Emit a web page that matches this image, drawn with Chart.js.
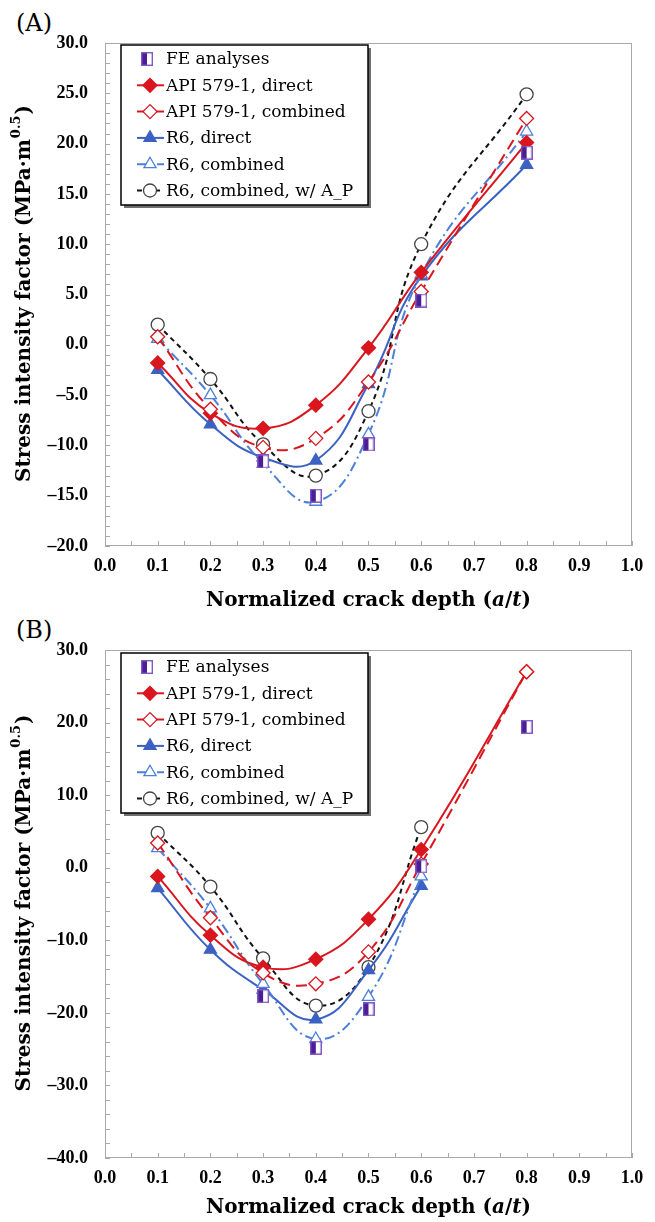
<!DOCTYPE html>
<html>
<head>
<meta charset="utf-8">
<script src="https://cdn.jsdelivr.net/npm/chart.js@4.4.0/dist/chart.umd.min.js"></script>
<style>
  body { margin: 0; background: #fff; width: 655px; height: 1222px; position: relative; overflow: hidden; }
  canvas { position: absolute; left: 0; }
  .tag { position: absolute; left: 16px; font: 24px "DejaVu Serif", serif; line-height: 26px; }
</style>
</head>
<body>
<div class="tag" style="top:10px">(A)</div>
<canvas id="chartA" width="655" height="615" style="top:0"></canvas>
<div class="tag" style="top:617px">(B)</div>
<canvas id="chartB" width="655" height="607" style="top:615px"></canvas>
<script>
// crack depth a/t where results are given
const crackDepth = [0.1, 0.2, 0.3, 0.4, 0.5, 0.6, 0.8];
const seriesNames = ['FE analyses', 'API 579-1, direct', 'API 579-1, combined', 'R6, direct', 'R6, combined', 'R6, combined, w/ A_P'];

// (A) stress intensity factor, MPa m^0.5
const feA        = [null, null, -11.6, -15.0, -9.9, 4.4, 19.1];
const apiDirectA = [-1.8, -6.8, -8.3, -6.0, -0.3, 7.2, 20.1];
const apiCombA   = [0.8, -6.4, -10.2, -9.3, -3.7, 5.3, 22.5];
const r6DirectA  = [-2.5, -7.9, -11.2, -11.5, -3.9, 6.8, 17.9];
const r6CombA    = [0.6, -5.0, -11.8, -15.6, -8.9, 7.0, 21.2];
const r6ApA      = [2.0, -3.4, -9.9, -13.0, -6.6, 10.0, 24.9];

// (B)
const feB        = [null, null, -17.7, -24.8, -19.5, 0.2, 19.4];
const apiDirectB = [-1.2, -9.3, -13.7, -12.6, -7.1, 2.5, 27.0];
const apiCombB   = [3.4, -6.9, -14.5, -16.0, -11.6, 0.5, 27.0];
const r6DirectB  = [-2.8, -11.3, -16.8, -20.9, -14.1, -2.5, null];
const r6CombB    = [2.7, -5.6, -16.0, -23.6, -17.8, -1.2, null];
const r6ApB      = [4.8, -2.6, -12.5, -19.0, -13.7, 5.6, null];

const xTicks = { min: 0, max: 1, step: 0.1, minor: 0.05 };
const yTicksA = { min: -20, max: 30, step: 5, minor: 1 };
const yTicksB = { min: -40, max: 30, step: 10, minor: 2 };

const RED = '#d9161e', BLUE = '#3b62c2', LBLUE = '#4d80d8', PURPLE = '#4b1e96';

// half filled square used for the FE results
function feMarker() {
  const c = document.createElement('canvas');
  c.width = 12; c.height = 14;
  const g = c.getContext('2d');
  g.fillStyle = '#fff'; g.fillRect(0, 0, 12, 14);
  g.fillStyle = PURPLE; g.fillRect(0, 0, 6, 14);
  g.strokeStyle = '#8159c4'; g.lineWidth = 1.4;
  g.strokeRect(0.7, 0.7, 10.6, 12.6);
  return c;
}
const feStyle = feMarker();

function pts(vals) {
  return crackDepth.map((x, i) => ({ x: x, y: vals[i] })).filter(p => p.y !== null);
}

function buildDatasets(fe, apiDirect, apiComb, r6Direct, r6Comb, r6Ap) {
  const common = { tension: 0.45, borderWidth: 2, pointBorderWidth: 1.3 };
  return [
    { label: seriesNames[0], data: pts(fe), showLine: false, pointStyle: feStyle, pointRadius: 7,
      pointBackgroundColor: PURPLE, pointBorderColor: PURPLE, borderColor: PURPLE, order: 0 },
    Object.assign({ label: seriesNames[1], data: pts(apiDirect), borderColor: RED, pointStyle: 'rectRot', pointRadius: 7,
      pointBackgroundColor: RED, pointBorderColor: RED, order: 2 }, common),
    Object.assign({ label: seriesNames[2], data: pts(apiComb), borderColor: RED, borderDash: [11, 6], pointStyle: 'rectRot', pointRadius: 7,
      pointBackgroundColor: '#fff', pointBorderColor: RED, order: 1 }, common),
    Object.assign({ label: seriesNames[3], data: pts(r6Direct), borderColor: BLUE, pointStyle: 'triangle', pointRadius: 7,
      pointBackgroundColor: BLUE, pointBorderColor: BLUE, order: 4 }, common),
    Object.assign({ label: seriesNames[4], data: pts(r6Comb), borderColor: LBLUE, borderDash: [10, 4, 2, 4], pointStyle: 'triangle', pointRadius: 7,
      pointBackgroundColor: '#fff', pointBorderColor: LBLUE, order: 3 }, common),
    Object.assign({ label: seriesNames[5], data: pts(r6Ap), borderColor: '#111', borderDash: [5, 4], pointStyle: 'circle', pointRadius: 6.5,
      pointBackgroundColor: '#fff', pointBorderColor: '#444', order: 5 }, common)
  ];
}

// grey frame and inside minor ticks
const frameTicks = {
  id: 'frameTicks',
  beforeDatasetsDraw(chart, args, opts) {
    const { ctx, chartArea: a, scales: { x, y } } = chart;
    ctx.save();
    ctx.strokeStyle = '#a9a9a9';
    ctx.lineWidth = 1;
    ctx.strokeRect(a.left + 0.5, a.top + 0.5, a.width - 1, a.height - 1);
    ctx.beginPath();
    for (let v = y.min; v <= y.max + 1e-9; v += opts.yMinor) {
      const py = Math.round(y.getPixelForValue(v)) + 0.5;
      ctx.moveTo(a.left, py); ctx.lineTo(a.left + 5, py);
    }
    for (let v = x.min; v <= x.max + 1e-9; v += opts.xMinor) {
      const px = Math.round(x.getPixelForValue(v)) + 0.5;
      ctx.moveTo(px, a.bottom); ctx.lineTo(px, a.bottom - 5);
    }
    ctx.stroke();
    ctx.restore();
  }
};

// axis titles (superscript and italics need several pieces)
const axisTitles = {
  id: 'axisTitles',
  afterDraw(chart, args, opts) {
    const { ctx, chartArea: a } = chart;
    const fam = '20px "DejaVu Serif"';
    const supFont = 'bold 13px "DejaVu Serif"';
    ctx.save();
    ctx.fillStyle = '#000';
    ctx.textBaseline = 'middle';
    ctx.textAlign = 'left';
    const parts = [['Normalized crack depth (', 'bold '], ['a', 'italic bold '], ['/', 'bold '], ['t', 'italic bold '], [')', 'bold ']];
    let total = 0;
    parts.forEach(p => { ctx.font = p[1] + fam; total += ctx.measureText(p[0]).width; });
    let cx = (a.left + a.right) / 2 - total / 2;
    parts.forEach(p => {
      ctx.font = p[1] + fam;
      ctx.fillText(p[0], cx, a.bottom + opts.xTitleGap);
      cx += ctx.measureText(p[0]).width;
    });

    ctx.translate(opts.yTitleX, (a.top + a.bottom) / 2);
    ctx.rotate(-Math.PI / 2);
    const main = 'Stress intensity factor (MPa\u00b7m', sup = '0.5', end = ')';
    ctx.font = 'bold ' + fam;
    const w1 = ctx.measureText(main).width, w3 = ctx.measureText(end).width;
    ctx.font = supFont;
    const w2 = ctx.measureText(sup).width;
    const sx = -(w1 + w2 + w3) / 2;
    ctx.font = 'bold ' + fam;
    ctx.fillText(main, sx, 0);
    ctx.font = supFont;
    ctx.fillText(sup, sx + w1 + 1, -8);
    ctx.font = 'bold ' + fam;
    ctx.fillText(end, sx + w1 + w2 + 2, 0);
    ctx.restore();
  }
};

// boxed legend inside the plot, with line sample and marker
const boxLegend = {
  id: 'boxLegend',
  afterDatasetsDraw(chart, args, opts) {
    const { ctx, chartArea: a } = chart;
    const L = a.left + opts.dx, T = a.top + opts.dy;
    ctx.save();
    ctx.fillStyle = '#6f6f6f';
    ctx.fillRect(L + 3, T + 3, opts.width, opts.height);
    ctx.fillStyle = '#fff';
    ctx.fillRect(L, T, opts.width, opts.height);
    ctx.strokeStyle = '#000';
    ctx.lineWidth = 1.5;
    ctx.strokeRect(L, T, opts.width, opts.height);
    chart.data.datasets.forEach((ds, i) => {
      const cy = T + opts.firstRow + i * opts.rowStep;
      let mx = L + 26;
      if (ds.showLine !== false) {
        mx = L + 29;
        ctx.setLineDash(ds.borderDash || []);
        ctx.strokeStyle = ds.borderColor;
        ctx.lineWidth = ds.borderWidth;
        ctx.beginPath(); ctx.moveTo(L + 16, cy); ctx.lineTo(L + 43, cy); ctx.stroke();
      }
      ctx.setLineDash([]);
      ctx.fillStyle = ds.pointBackgroundColor;
      ctx.strokeStyle = ds.pointBorderColor;
      ctx.lineWidth = ds.pointBorderWidth || 1;
      Chart.helpers.drawPoint(ctx, { pointStyle: ds.pointStyle, radius: ds.pointRadius, rotation: 0, borderWidth: ds.pointBorderWidth || 1 }, mx, cy);
      ctx.fillStyle = '#000';
      ctx.font = '17px "DejaVu Serif"';
      ctx.textBaseline = 'middle';
      ctx.fillText(ds.label, L + 45, cy + 1);
    });
    ctx.restore();
  }
};

const tickFont = { family: 'Liberation Serif', size: 18, weight: 'bold' };
const fmt = v => (v < 0 ? '\u2013' + Math.abs(v).toFixed(1) : v.toFixed(1));

function makeChart(id, datasets, yt, plotTop, xAxisH, legendDy, titleGap) {
  return new Chart(document.getElementById(id), {
    type: 'line',
    data: { datasets: datasets },
    options: {
      responsive: false,
      animation: false,
      events: [],
      layout: { padding: { top: plotTop, right: 23, left: 0, bottom: 0 } },
      scales: {
        x: {
          type: 'linear', min: xTicks.min, max: xTicks.max,
          grid: { display: false, drawTicks: false }, border: { display: false },
          ticks: { stepSize: xTicks.step, padding: 10, color: '#000', font: tickFont, maxRotation: 0, callback: v => v.toFixed(1) },
          afterFit: s => { s.height = xAxisH; }
        },
        y: {
          min: yt.min, max: yt.max,
          grid: { display: false, drawTicks: false }, border: { display: false },
          ticks: { stepSize: yt.step, padding: 17, color: '#000', font: tickFont, callback: fmt },
          afterFit: s => { s.width = 105; }
        }
      },
      plugins: {
        legend: { display: false },
        tooltip: { enabled: false },
        frameTicks: { yMinor: yt.minor, xMinor: xTicks.minor },
        axisTitles: { xTitleGap: titleGap, yTitleX: 25 },
        boxLegend: { dx: 16, dy: legendDy, width: 247, height: 160, firstRow: 14, rowStep: 26.3 }
      }
    },
    plugins: [frameTicks, axisTitles, boxLegend]
  });
}

makeChart('chartA', buildDatasets(feA, apiDirectA, apiCombA, r6DirectA, r6CombA, r6ApA), yTicksA, 43, 69, 2, 55);
makeChart('chartB', buildDatasets(feB, apiDirectB, apiCombB, r6DirectB, r6CombB, r6ApB), yTicksB, 35, 64, 3, 50);
</script>
</body>
</html>
